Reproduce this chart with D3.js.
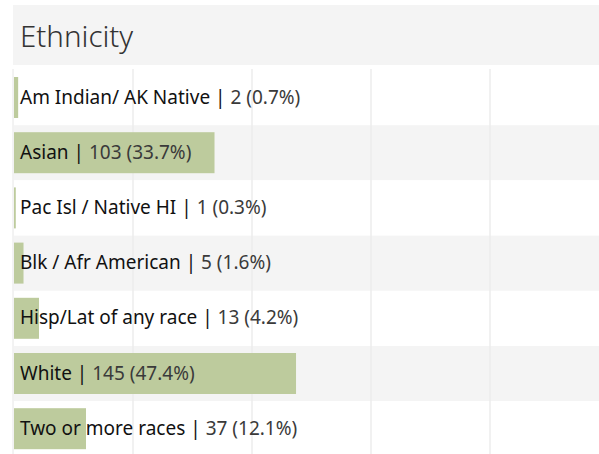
<!DOCTYPE html>
<html>
<head>
<meta charset="utf-8">
<script src="https://cdn.jsdelivr.net/npm/d3@7"></script>
<style>
  body { margin: 0; background: #fff; }
  svg { display: block; font-family: "Noto Sans", "Open Sans", sans-serif; }
</style>
</head>
<body>
<svg id="chart" width="599" height="454"></svg>
<script>
// data
const categories = ["Am Indian/ AK Native", "Asian", "Pac Isl / Native HI", "Blk / Afr American",
  "Hisp/Lat of any race", "White", "Two or more races"]
const counts = [2, 103, 1, 5, 13, 145, 37]
const percents = [0.7, 33.7, 0.3, 1.6, 4.2, 47.4, 12.1]
const gridTicks = [20, 40, 60, 80]
const title = "Ethnicity"

const rows = categories.map((c, i) => ({cat: c, count: counts[i], pct: percents[i]}))

const svg = d3.select("#chart")
const W = 599, H = 454
const left = 14

// title band
svg.append("rect")
  .attr("x", 13).attr("y", 5).attr("width", W - 13).attr("height", 60)
  .attr("fill", "#f4f4f4")
svg.append("text")
  .attr("x", 20).attr("y", 47)
  .attr("font-size", 29.5).attr("font-weight", 300)
  .attr("fill", "#333")
  .text(title)

const x = d3.scaleLinear().domain([0, 100]).range([left, left + 595])
const y = d3.scaleBand().domain(categories).range([70, 70 + 55.2 * categories.length]).padding(0)

const g = svg.append("g").attr("class", "chart")

// row bands (first one reaches up to the title band)
g.selectAll("rect.band")
  .data(rows)
  .enter()
  .append("rect")
  .attr("class", "band")
  .attr("x", left)
  .attr("y", (d, i) => i === 0 ? 65 : y(d.cat))
  .attr("width", W - left)
  .attr("height", (d, i) => i === 0 ? y.bandwidth() + 5 : y.bandwidth())
  .attr("fill", (d, i) => i % 2 ? "#f4f4f4" : "#fff")

// grid
g.selectAll("line.grid")
  .data(gridTicks)
  .enter()
  .append("line")
  .attr("class", "grid")
  .attr("x1", d => x(d)).attr("x2", d => x(d))
  .attr("y1", 69).attr("y2", H)
  .attr("stroke", "#ececec").attr("stroke-width", 1.5)

g.append("line")
  .attr("x1", 13).attr("x2", 13)
  .attr("y1", 69).attr("y2", H)
  .attr("stroke", "#e6e6e6").attr("stroke-width", 1)

// bars
g.selectAll("rect.bar")
  .data(rows)
  .enter()
  .append("rect")
  .attr("class", "bar")
  .attr("x", x(0))
  .attr("y", d => y(d.cat) + 7)
  .attr("width", d => x(d.pct) - x(0))
  .attr("height", 41)
  .attr("fill", "#bdcb9d")

// labels
const labels = g.selectAll("text.label")
  .data(rows)
  .enter()
  .append("text")
  .attr("class", "label")
  .attr("x", 20)
  .attr("y", d => y(d.cat) + 27)
  .attr("dy", "0.35em")
  .attr("font-size", 19)
  .attr("fill", "#111")

labels.append("tspan")
  .text(d => d.cat + " | ")
labels.append("tspan")
  .attr("fill", "#3a3a3a")
  .text(d => `${d.count} (${d.pct.toFixed(1)}%)`)
</script>
</body>
</html>
